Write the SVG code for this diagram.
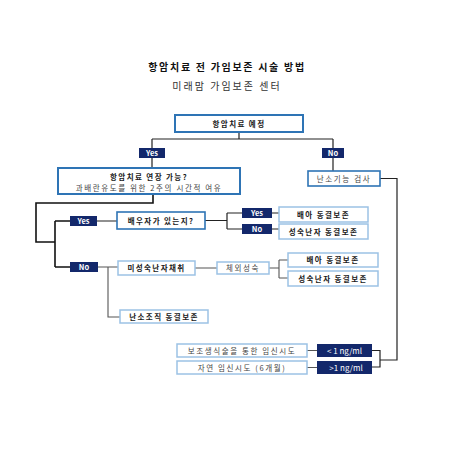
<svg xmlns="http://www.w3.org/2000/svg" width="453" height="453" viewBox="0 0 453 453">
<style>
text{font-family:"Noto Sans CJK KR","Noto Sans",sans-serif;text-anchor:middle}
.t1{font-size:10px;font-weight:bold;fill:#111;letter-spacing:1.7px}
.t2{font-size:10px;fill:#333;letter-spacing:2px}
.b{font-size:7.5px;font-weight:bold;fill:#1a1a1a;letter-spacing:1.4px}
.n{font-size:7.5px;fill:#444;letter-spacing:1.6px}
.w{font-size:7.5px;font-weight:bold;fill:#fff}
.wn{font-size:8px;fill:#fff}
.main{fill:#fff;stroke:#2e74b5;stroke-width:2}
.lite{fill:#fff;stroke:#9cc2e5;stroke-width:1.5}
.dk{fill:#13286b}
.c{fill:none;stroke:#222;stroke-width:1.2}
.cg{fill:none;stroke:#555;stroke-width:1.1}
.cb{fill:none;stroke:#111;stroke-width:1.6}
</style>
<rect width="453" height="453" fill="#fff"/>
<text class="t1" x="227" y="71">항암치료 전 가임보존 시술 방법</text>
<text class="t2" x="227" y="90">미래맘 가임보존 센터</text>

<g id="connectors">
<path class="c" d="M239,132V139M152,139H333M152,139V168M333,139V171"/>
<path class="c" d="M380,178.5H397V360H380M372,350.5H380V367H372"/>
<path class="cg" d="M307,350.5H317M307,367.5H317"/>
<path class="cb" d="M153,194V203H36V242H55M55,221V267M55,221H70M55,267H70"/>
<path class="c" d="M97,221H117M205,220.5H227M227,213V229M227,213H242M227,229H242M272,213H279M272,229H279"/>
<path class="cg" d="M98,267H118M108,267V317H120M195,268H217M269,268H279M279,260V278M279,260H288M279,278H288"/>
</g>

<g id="n-start"><rect class="main" x="175" y="115" width="128" height="17"/><text class="b" x="239" y="126.5">항암치료 예정</text></g>
<g id="n-yes1"><rect class="dk" x="139" y="148" width="26" height="10"/><text class="w" x="152" y="155.8">Yes</text></g>
<g id="n-no1"><rect class="dk" x="322" y="148" width="22" height="10"/><text class="w" x="333" y="155.8">No</text></g>
<g id="n-extend"><rect class="main" x="58" y="168" width="182" height="26"/><text class="b" x="149" y="179.5">항암치료 연장 가능?</text><text class="n" x="149" y="190.5">과배란유도를 위한 2주의 시간적 여유</text></g>
<g id="n-ovary"><rect class="main" x="308" y="171" width="72" height="15" style="stroke-width:1.6"/><text class="n" x="344" y="181.5">난소기능 검사</text></g>
<g id="n-art"><rect class="lite" x="177" y="344" width="130" height="13"/><text class="n" x="242" y="353.5">보조생식술을 통한 임신시도</text></g>
<g id="n-natural"><rect class="lite" x="177" y="361" width="130" height="13"/><text class="n" x="242" y="370.5">자연 임신시도 (6개월)</text></g>
<g id="n-lt1"><rect class="dk" x="317" y="344" width="55" height="13"/><text class="wn" x="344.5" y="353.5">&lt; 1 ng/ml</text></g>
<g id="n-gt1"><rect class="dk" x="317" y="361" width="55" height="13"/><text class="wn" x="346" y="370.5">&gt;1 ng/ml</text></g>
<g id="n-yes2"><rect class="dk" x="70" y="216" width="27" height="10"/><text class="w" x="83.5" y="223.8">Yes</text></g>
<g id="n-spouse"><rect class="main" x="117" y="212" width="88" height="17" style="stroke-width:1.6"/><text class="b" x="161" y="223.5">배우자가 있는지?</text></g>
<g id="n-yes3"><rect class="dk" x="242" y="208" width="30" height="10"/><text class="w" x="257" y="215.8">Yes</text></g>
<g id="n-no3"><rect class="dk" x="242" y="224" width="30" height="10"/><text class="w" x="257" y="231.8">No</text></g>
<g id="n-embryo1"><rect class="lite" x="279" y="207" width="89" height="15"/><text class="b" x="323.5" y="217.5">배아 동결보존</text></g>
<g id="n-oocyte1"><rect class="lite" x="279" y="224" width="89" height="15"/><text class="b" x="323.5" y="234.5">성숙난자 동결보존</text></g>
<g id="n-no2"><rect class="dk" x="70" y="262" width="28" height="10"/><text class="w" x="84" y="269.8">No</text></g>
<g id="n-immature"><rect class="lite" x="118" y="261" width="77" height="14"/><text class="b" x="156.5" y="271">미성숙난자채취</text></g>
<g id="n-ivm"><rect class="lite" x="217" y="262" width="52" height="12"/><text class="n" x="243" y="271">체외성숙</text></g>
<g id="n-embryo2"><rect class="lite" x="288" y="253" width="90" height="14"/><text class="b" x="333" y="263">배아 동결보존</text></g>
<g id="n-oocyte2"><rect class="lite" x="288" y="271" width="90" height="15"/><text class="b" x="333" y="281.5">성숙난자 동결보존</text></g>
<g id="n-tissue"><rect class="lite" x="120" y="310" width="88" height="13"/><text class="b" x="164" y="319.5">난소조직 동결보존</text></g>
</svg>
